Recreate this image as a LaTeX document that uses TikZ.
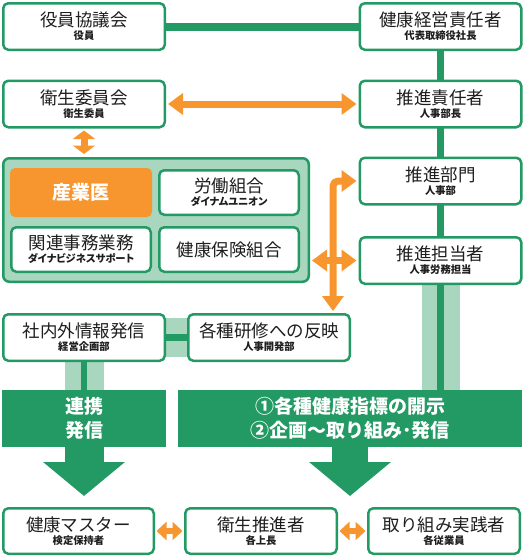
\documentclass[tikz,border=0pt]{standalone}
\usepackage{fontspec}
\setmainfont{Noto Sans CJK JP}
\newfontfamily\subfont{Noto Sans CJK JP}[RawFeature=+palt]
\usetikzlibrary{arrows.meta,backgrounds}
\definecolor{hgreen}{RGB}{35,153,100}
\definecolor{hlight}{RGB}{168,214,190}
\definecolor{horange}{RGB}{247,150,46}
\definecolor{htext}{RGB}{30,30,30}
\newcommand{\ttl}[2]{#1\\{\subfont\fontsize{10.3}{13}\selectfont\bfseries #2}}
\tikzset{
  box/.style={draw=hgreen,line width=2.5pt,rounded corners=5pt,fill=white,
    minimum width=161.5pt,minimum height=46.5pt,inner sep=0pt,align=center,
    text=htext,font=\fontsize{17.5}{13}\selectfont},
  inbox/.style={box,minimum width=139.5pt,minimum height=44.5pt},
  doctor/.style={fill=horange,rounded corners=5pt,minimum width=142pt,
    minimum height=49pt,text=white,font=\fontsize{19}{19}\selectfont\bfseries},
  group/.style={draw=hgreen,line width=2.5pt,rounded corners=6pt,fill=hlight,
    minimum width=305.5pt,minimum height=123.5pt},
  banner/.style={fill=hgreen,minimum height=57pt,inner sep=0pt,align=center,
    text=white,font=\fontsize{19}{24}\selectfont\bfseries},
  gline/.style={draw=hgreen,line width=7pt},
  band/.style={draw=hlight,line width=38pt},
  bigarrow/.style={draw=hgreen,line width=#1,shorten >=11pt,
    -{Triangle[length=34pt,width=80pt]}},
  oarrow/.style={draw=horange,line width=7pt,shorten >=2pt,shorten <=2pt,
    {Triangle[length=15pt,width=21pt]}-{Triangle[length=15pt,width=21pt]}},
  sarrow/.style={draw=horange,line width=6pt,shorten >=1.5pt,shorten <=1.5pt,
    {Triangle[length=10pt,width=18pt]}-{Triangle[length=10pt,width=18pt]}},
}
\begin{document}
\begin{tikzpicture}[x=1pt,y=-1pt,line join=round]
  \useasboundingbox (0,0) rectangle (525,557);
  % left column
  \node[box] (yakuin) at (84,26.5) {\ttl{役員協議会}{役員}};
  \node[box] (eisei) at (84,104) {\ttl{衛生委員会}{衛生委員}};
  \node[group] (sangyo) at (156,220) {};
  \node[doctor] (ishi) at (81,192.5) {産業医};
  \node[inbox] (roudou) at (229,192.5) {\ttl{労働組合}{ダイナムユニオン}};
  \node[inbox] (kanren) at (81,249.5) {\ttl{関連事務業務}{ダイナビジネスサポート}};
  \node[inbox] (kenpo) at (229,249.5) {健康保険組合};
  % right column
  \node[box] (keiei) at (440.5,26.5) {\ttl{健康経営責任者}{代表取締役社長}};
  \node[box] (sekinin) at (440.5,104) {\ttl{推進責任者}{人事部長}};
  \node[box] (bumon) at (440.5,181) {\ttl{推進部門}{人事部}};
  \node[box] (tantou) at (440.5,260.5) {\ttl{推進担当者}{人事労務担当}};
  % middle row
  \node[box] (johou) at (84,337.5) {\ttl{社内外情報発信}{経営企画部}};
  \node[box] (kenshu) at (269,337.5) {\ttl{各種研修への反映}{人事開発部}};
  \node[banner,minimum width=164pt] (renkei) at (84,418.5) {連携\\発信};
  \node[banner,minimum width=344pt] (kaiji) at (350,418.5)
    {①各種健康指標の開示\\②企画～取り組み･発信};
  % bottom row
  \node[box,minimum width=150.5pt,minimum height=45.5pt] (master) at (78.5,531)
    {\ttl{健康マスター}{検定保持者}};
  \node[box,minimum width=151.5pt,minimum height=45.5pt] (suishin) at (261,531)
    {\ttl{衛生推進者}{各上長}};
  \node[box,minimum width=151.5pt,minimum height=45.5pt] (jissen) at (444,531)
    {\ttl{取り組み実践者}{各従業員}};
  \coordinate (kturn) at (333,181);

  \begin{pgfonlayer}{background}
    \draw[gline,line width=8pt] (yakuin.east) -- (keiei.west);
    \draw[gline] (keiei.south) -- (tantou.north);
    \draw[band] (tantou.south) -- (tantou.south |- kaiji.north);
    \draw[gline,line width=6.5pt] (tantou.south) -- (tantou.south |- kaiji.north);
    \draw[band,line width=39pt] (johou.east) -- (kenshu.west);
    \draw[gline,line width=6.5pt] (johou.east) -- (kenshu.west);
    \draw[band,line width=39pt] (johou.south) -- (johou.south |- renkei.north);
    \draw[gline,line width=6pt] (johou.south) -- (johou.south |- renkei.north);
  \end{pgfonlayer}

  \draw[bigarrow=39pt] (renkei.south) -- (renkei.south |- master.north);
  \draw[bigarrow=36pt] (kaiji.south) -- (kaiji.south |- suishin.north);

  \draw[oarrow] (eisei.east) -- (sekinin.west);
  \draw[oarrow,shorten <=2pt,shorten >=3pt,
    {Triangle[length=8.5pt,width=22pt]}-{Triangle[length=8.5pt,width=22pt]}]
    (eisei.south) -- (eisei.south |- sangyo.north);
  \draw[oarrow,rounded corners=5pt] (bumon.west) -- (kturn) -- (kturn |- kenshu.north);
  \draw[oarrow] (sangyo.east |- tantou.west) -- (tantou.west);
  \draw[sarrow] (master.east) -- (suishin.west);
  \draw[sarrow] (suishin.east) -- (jissen.west);
\end{tikzpicture}
\end{document}
